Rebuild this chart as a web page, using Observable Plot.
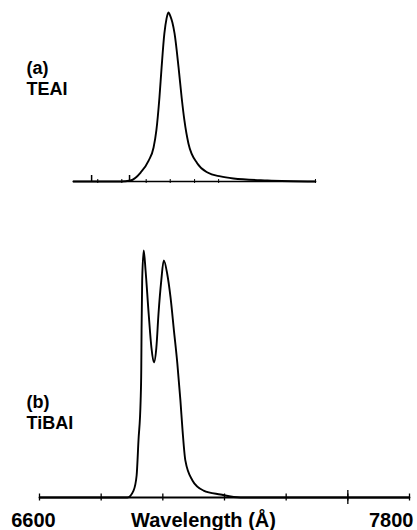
<!DOCTYPE html>
<html><head><meta charset="utf-8">
<script src="https://cdn.jsdelivr.net/npm/d3@7"></script>
<script src="https://cdn.jsdelivr.net/npm/@observablehq/plot@0.6"></script>
<style>
body{margin:0;background:#fff;}
#chart{position:relative;width:417px;height:530px;background:#fff;}
#chart svg{display:block;}
</style></head><body><div id="chart"></div>
<script>
// (a) TEAI emission spectrum
const teaiWavelength = [6710, 6863, 6895, 6928, 6954, 6970, 6979, 6989, 6996, 7005, 7012, 7018, 7025, 7031, 7038, 7051, 7061, 7070, 7083, 7112, 7145, 7187, 7229, 7339, 7495];
const teaiIntensity  = [0, 0, 0.006, 0.053, 0.124, 0.201, 0.302, 0.497, 0.675, 0.876, 0.964, 1.0, 0.976, 0.941, 0.876, 0.675, 0.497, 0.361, 0.225, 0.107, 0.053, 0.030, 0.018, 0.006, 0];
// (b) TiBAI emission spectrum
const tibaiWavelength = [6600, 6863, 6885, 6905, 6915, 6921, 6928, 6930, 6931, 6933, 6938, 6944, 6954, 6963, 6971, 6979, 6986, 6995, 7003, 7014, 7025, 7036, 7047, 7057, 7064, 7073, 7096, 7132, 7187, 7252, 7800];
const tibaiIntensity  = [0, 0, 0, 0.028, 0.089, 0.231, 0.393, 0.514, 0.676, 0.879, 1.0, 0.919, 0.745, 0.607, 0.547, 0.607, 0.745, 0.879, 0.96, 0.907, 0.81, 0.676, 0.543, 0.393, 0.271, 0.15, 0.069, 0.028, 0.012, 0, 0];

const panelLabels = ["(a)\nTEAI", "(b)\nTiBAI"];
const bottomTicks = [6600, 6800, 7000, 7200, 7400, 7600, 7800];
const bottomMajorTick = [7600];
const tickLabels = [6600, 7800];
const axisTitle = "Wavelength (Å)";
const topAxisExtent = [6710, 7495];
const topTicks = [6789, 6867, 6946, 7024, 7103, 7181, 7495];
const topMarkerTicks = [6769, 6892];

const FONT = "'Liberation Sans', Arial, Helvetica, sans-serif";
const xDomain = [6600, 7800];
const teai = teaiWavelength.map((w, i) => ({w, v: teaiIntensity[i]}));
const tibai = tibaiWavelength.map((w, i) => ({w, v: tibaiIntensity[i]}));

const common = {
  width: 417,
  marginLeft: 39,
  marginRight: 8,
  x: {domain: xDomain, axis: null},
  y: {domain: [0, 1], axis: null},
  style: {fontFamily: FONT, background: "white", color: "black"}
};

const topPanel = Plot.plot({
  ...common,
  height: 200,
  marginTop: 12,
  marginBottom: 19,
  marks: [
    Plot.ruleY([0], {x1: topAxisExtent[0], x2: topAxisExtent[1], stroke: "black", strokeWidth: 1.6}),
    Plot.ruleX(topTicks, {x: d => d, y1: 0, y2: 0, insetTop: -2, insetBottom: -2, stroke: "black", strokeWidth: 1}),
    Plot.ruleX(topMarkerTicks, {x: d => d, y1: 0, y2: 0, insetTop: -6, insetBottom: 0, stroke: "black", strokeWidth: 1.5}),
    Plot.line(teai, {x: "w", y: "v", curve: "monotone-x", stroke: "black", strokeWidth: 1.9}),
    Plot.text([panelLabels[0]], {frameAnchor: "bottom-left", text: d => d, textAnchor: "start", lineAnchor: "bottom", lineHeight: 1.13, dx: -13, dy: -87, fontSize: 18, fontWeight: "bold", fontFamily: FONT, fill: "black"})
  ]
});

const bottomPanel = Plot.plot({
  ...common,
  height: 330,
  marginTop: 50,
  marginBottom: 33,
  marks: [
    Plot.ruleY([0], {x1: xDomain[0], x2: xDomain[1], stroke: "black", strokeWidth: 2}),
    Plot.ruleX(bottomTicks, {x: d => d, y1: 0, y2: 0, insetTop: -3.5, insetBottom: -3.5, stroke: "black", strokeWidth: 1.3}),
    Plot.ruleX(bottomMajorTick, {x: d => d, y1: 0, y2: 0, insetTop: -7, insetBottom: -7, stroke: "black", strokeWidth: 1.3}),
    Plot.line(tibai, {x: "w", y: "v", curve: "monotone-x", stroke: "black", strokeWidth: 1.9}),
    Plot.text([panelLabels[1]], {frameAnchor: "bottom-left", text: d => d, textAnchor: "start", lineAnchor: "bottom", lineHeight: 1.13, dx: -13, dy: -69, fontSize: 18, fontWeight: "bold", fontFamily: FONT, fill: "black"}),
    Plot.text([tickLabels[0]], {x: d => d, frameAnchor: "bottom", text: d => String(d), textAnchor: "middle", lineAnchor: "bottom", dx: -6, dy: 29, fontSize: 20, fontWeight: "bold", fontFamily: FONT, fill: "black"}),
    Plot.text([tickLabels[1]], {x: d => d, frameAnchor: "bottom", text: d => String(d), textAnchor: "end", lineAnchor: "bottom", dx: 4, dy: 29, fontSize: 20, fontWeight: "bold", fontFamily: FONT, fill: "black"}),
    Plot.text([axisTitle], {frameAnchor: "bottom", text: d => d, textAnchor: "middle", lineAnchor: "bottom", dx: -21, dy: 29, fontSize: 20, fontWeight: "bold", fontFamily: FONT, fill: "black"})
  ]
});

const chart = document.getElementById("chart");
chart.appendChild(topPanel);
chart.appendChild(bottomPanel);
</script></body></html>
